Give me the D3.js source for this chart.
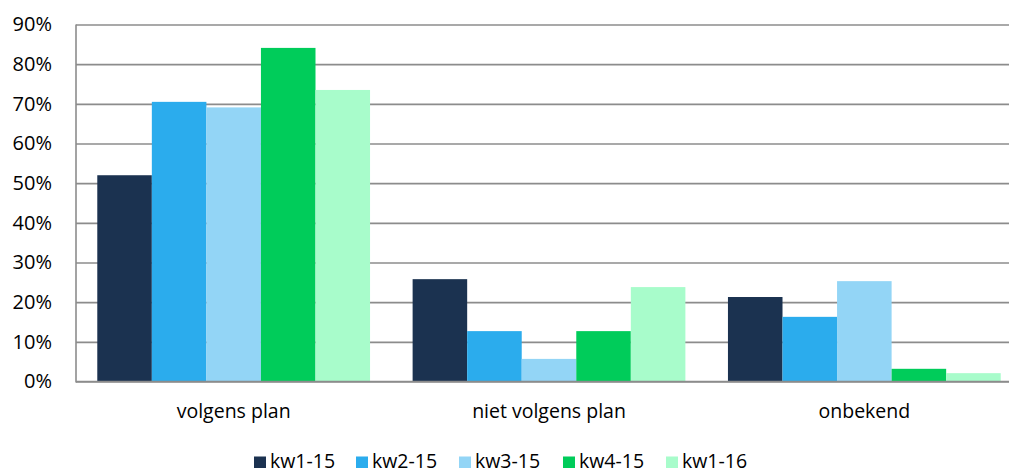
<!DOCTYPE html>
<html><head><meta charset="utf-8">
<script src="https://cdn.jsdelivr.net/npm/d3@7/dist/d3.min.js"></script>
<style>body{margin:0;background:#fff}svg{display:block}text{font-family:"Open Sans",sans-serif;fill:#000}</style>
</head><body><svg id="c" width="1009" height="473"></svg>
<script>
const categories = ["volgens plan", "niet volgens plan", "onbekend"];
const seriesNames = ["kw1-15", "kw2-15", "kw3-15", "kw4-15", "kw1-16"];
const kw1_15 = [52.0, 25.8, 21.3];
const kw2_15 = [70.5, 12.7, 16.3];
const kw3_15 = [69.1, 5.7, 25.3];
const kw4_15 = [84.1, 12.7, 3.2];
const kw1_16 = [73.5, 23.8, 2.1];
const yTicks = [0, 10, 20, 30, 40, 50, 60, 70, 80, 90];
const colors = ["#1B3250", "#2BACED", "#93D5F6", "#00CC5A", "#A8FCCB"];
const seriesValues = [kw1_15, kw2_15, kw3_15, kw4_15, kw1_16];

const svg = d3.select("#c");
const pLeft = 76, pRight = 1022, pTop = 24.5, pBottom = 381.5;
const y = d3.scaleLinear().domain([0, 90]).range([pBottom, pTop]);
const x0 = d3.scaleBand().domain(categories).range([pLeft, pRight]).paddingInner(0.135).paddingOuter(0.0675);
const x1 = d3.scaleBand().domain(seriesNames).range([0, x0.bandwidth()]);

// gridlines
const yAxis = d3.axisLeft(y).tickValues(yTicks).tickSize(-(pRight - pLeft)).tickFormat(d => d + "%").tickPadding(24);
const ga = svg.append("g").attr("transform", `translate(${pLeft},0)`).call(yAxis);
ga.select(".domain").remove();
ga.selectAll(".tick line").attr("stroke", "#8c8c8c").attr("stroke-width", 1.6);
ga.selectAll(".tick text").attr("font-size", "20px").attr("fill", "#000").attr("font-family", '"Open Sans",sans-serif');

// bars
const g = svg.append("g");
categories.forEach((c, ci) => {
  seriesNames.forEach((s, si) => {
    g.append("rect")
      .attr("x", x0(c) + x1(s))
      .attr("y", y(seriesValues[si][ci]))
      .attr("width", x1.bandwidth())
      .attr("height", y(0) - y(seriesValues[si][ci]))
      .attr("fill", colors[si]);
  });
});

// axis lines
svg.append("line").attr("x1", pLeft).attr("x2", pLeft).attr("y1", pTop).attr("y2", pBottom + 1)
  .attr("stroke", "#8c8c8c").attr("stroke-width", 1.6);
svg.append("line").attr("x1", pLeft).attr("x2", pRight).attr("y1", pBottom).attr("y2", pBottom)
  .attr("stroke", "#8c8c8c").attr("stroke-width", 1.6);

// category labels
const xAxis = d3.axisBottom(x0).tickSize(0).tickPadding(0);
const gx = svg.append("g").attr("transform", `translate(0,${pBottom})`).call(xAxis);
gx.select(".domain").remove();
gx.selectAll(".tick text").attr("font-size", "19.5px").attr("fill", "#000")
  .attr("font-family", '"Open Sans",sans-serif').attr("dy", null).attr("y", 36.5);

// legend
const legendX = [254, 356, 459, 563, 666];
const lg = svg.append("g");
seriesNames.forEach((s, i) => {
  lg.append("rect").attr("x", legendX[i]).attr("y", 456.5).attr("width", 12).attr("height", 11.5).attr("fill", colors[i]);
  lg.append("text").attr("x", legendX[i] + 16).attr("y", 467.5).attr("font-size", "19.5px").text(s);
});
</script></body></html>
